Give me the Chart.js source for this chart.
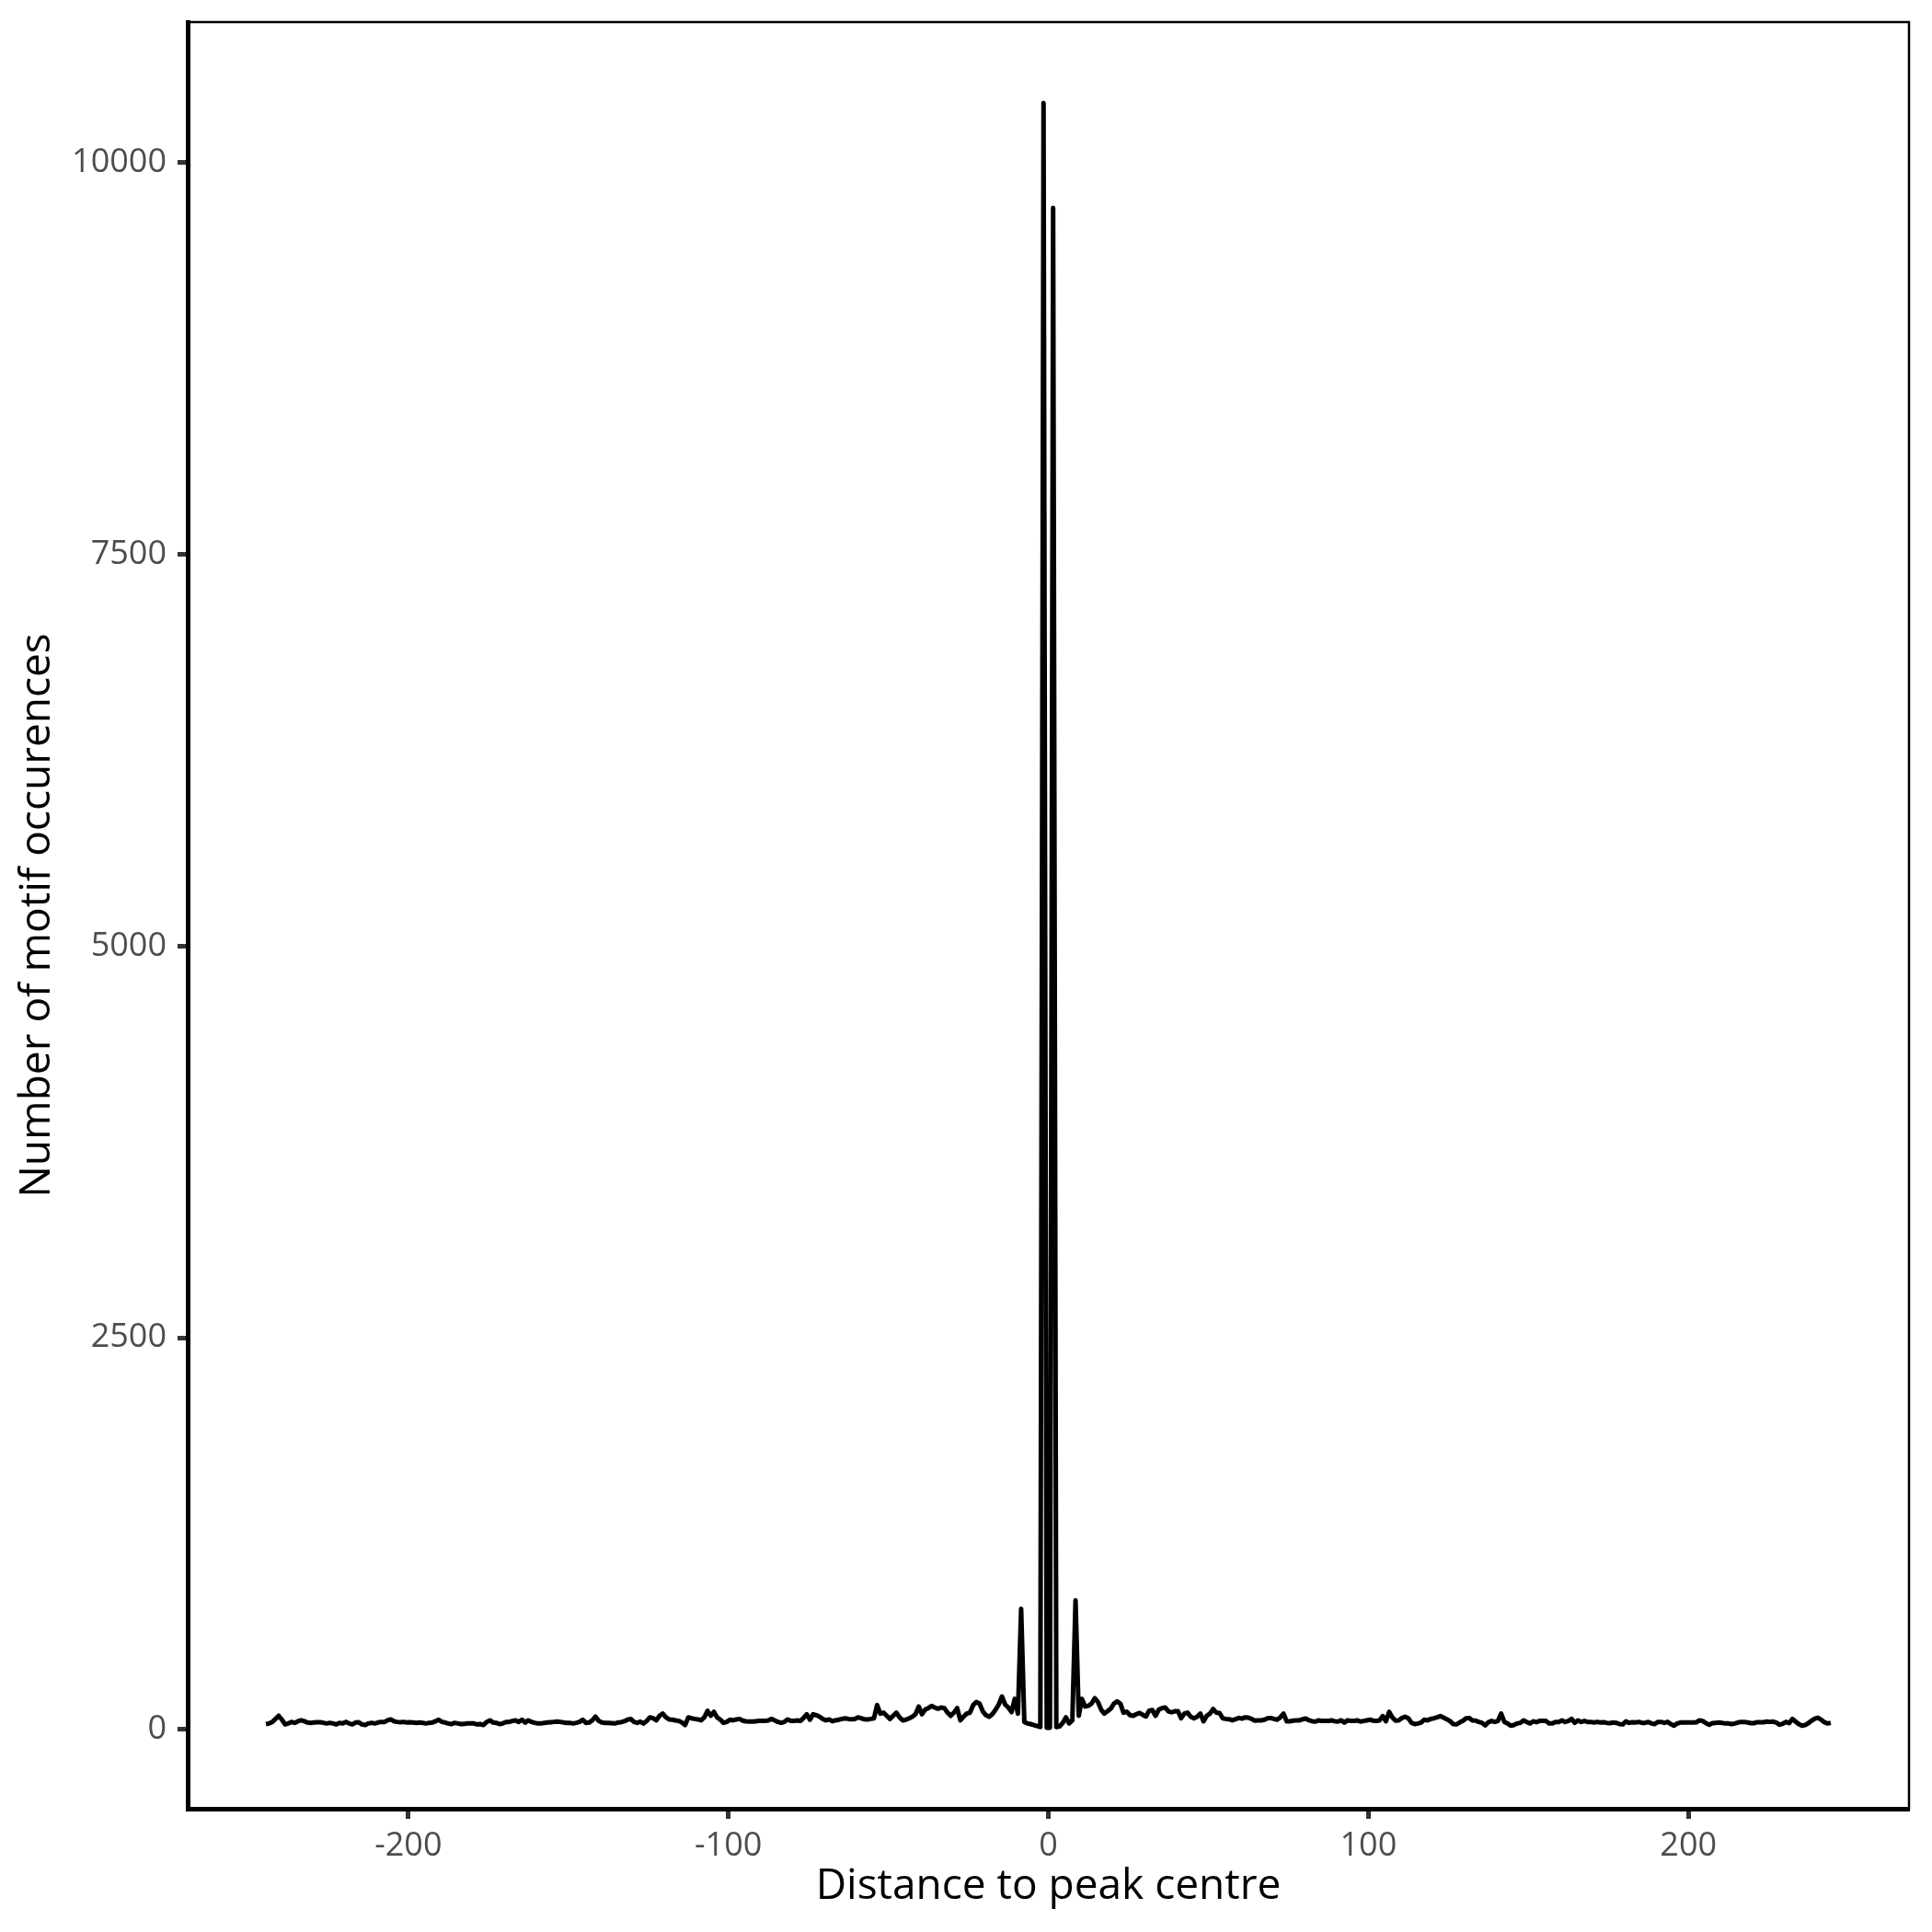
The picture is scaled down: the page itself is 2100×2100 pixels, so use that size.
<!DOCTYPE html>
<html>
<head>
<meta charset="utf-8">
<title>Motif occurrences around peak centre</title>
<script src="https://cdn.jsdelivr.net/npm/chart.js@4.4.1/dist/chart.umd.min.js"></script>
<style>
  html, body { margin: 0; padding: 0; background: #ffffff; }
  canvas { display: block; }
</style>
</head>
<body>
<canvas id="motifChart" width="2100" height="2100"></canvas>
<script>
// first bin centre, bins are 1 bp wide (centres at half positions)
const firstDistance = -244.5;

// number of motif occurences per bin (10 per row)
const counts = [
  35, 39, 49, 68, 88, 63, 33, 39, 49, 43,
  53, 59, 53, 45, 43, 45, 47, 47, 43, 39,
  43, 39, 33, 43, 39, 49, 39, 33, 45, 47,
  33, 29, 39, 43, 39, 45, 49, 49, 59, 65,
  53, 49, 47, 49, 45, 47, 45, 43, 45, 43,
  39, 43, 45, 53, 63, 49, 45, 39, 35, 43,
  39, 35, 37, 39, 39, 39, 33, 35, 29, 49,
  59, 45, 43, 35, 39, 49, 49, 55, 59, 49,
  63, 45, 59, 49, 43, 39, 39, 43, 45, 47,
  49, 51, 49, 45, 43, 43, 39, 43, 49, 63,
  43, 45, 59, 82, 55, 45, 43, 43, 41, 39,
  45, 47, 53, 63, 68, 49, 43, 51, 39, 55,
  78, 72, 59, 88, 102, 78, 65, 63, 59, 55,
  45, 29, 78, 72, 68, 65, 59, 78, 120, 88,
  113, 78, 63, 43, 49, 63, 59, 65, 68, 57,
  53, 51, 51, 53, 55, 55, 55, 59, 68, 59,
  49, 43, 49, 65, 55, 55, 59, 55, 74, 98,
  63, 98, 92, 82, 68, 59, 65, 53, 59, 63,
  68, 72, 68, 66, 68, 78, 72, 66, 65, 68,
  72, 156, 102, 108, 88, 68, 88, 108, 78, 59,
  63, 72, 82, 98, 147, 98, 127, 137, 151, 141,
  133, 141, 137, 108, 88, 108, 137, 59, 82, 102,
  108, 156, 176, 166, 117, 92, 82, 98, 127, 160,
  211, 160, 141, 112, 196, 102, 770, 49, 39, 35,
  29, 23, 16, 10380, 12, 12, 9710, 16, 20, 43,
  78, 39, 59, 825, 88, 196, 147, 152, 166, 200,
  176, 127, 102, 117, 133, 166, 180, 166, 108, 114,
  92, 88, 98, 106, 94, 84, 121, 125, 88, 127,
  137, 141, 117, 110, 117, 117, 72, 102, 108, 82,
  72, 82, 102, 53, 88, 102, 131, 108, 106, 72,
  68, 66, 59, 66, 74, 70, 78, 76, 68, 57,
  59, 59, 63, 72, 74, 68, 63, 78, 102, 53,
  53, 57, 59, 59, 66, 70, 59, 53, 51, 59,
  55, 55, 55, 59, 53, 51, 59, 45, 59, 55,
  55, 59, 51, 55, 59, 63, 57, 55, 59, 86,
  53, 113, 78, 57, 59, 74, 82, 72, 43, 35,
  39, 45, 63, 59, 68, 72, 78, 86, 76, 66,
  55, 35, 33, 45, 55, 72, 74, 59, 57, 49,
  43, 27, 47, 55, 49, 55, 102, 49, 39, 25,
  29, 39, 43, 59, 49, 39, 53, 47, 55, 55,
  55, 39, 39, 49, 49, 59, 49, 55, 68, 43,
  59, 49, 55, 49, 49, 45, 49, 45, 47, 43,
  41, 45, 43, 35, 33, 53, 43, 47, 45, 49,
  43, 43, 49, 39, 35, 49, 49, 43, 49, 35,
  25, 39, 45, 45, 45, 45, 45, 47, 59, 55,
  41, 31, 41, 43, 45, 43, 39, 39, 35, 39,
  45, 49, 49, 45, 41, 41, 47, 47, 47, 51,
  49, 51, 45, 31, 37, 49, 41, 68, 51, 35,
  25, 29, 41, 57, 70, 76, 63, 47, 39, 43
];

// tick labels
const xTicks = [-200, -100, 0, 100, 200];
const yTicks = [0, 2500, 5000, 7500, 10000];

// axis limits (ggplot style 5% expansion)
const xLimits = [-268.95, 268.95];
const yLimits = [-505, 10896];

function drawChart() {
    // punten opbouwen: afstand + aantal
    const points = counts.map((c, i) => ({ x: firstDistance + i, y: c }));

    // dunne rand rond het paneel
    const panelBorder = {
        id: 'panelBorder',
        afterDraw(chart) {
            const { ctx, chartArea } = chart;
            ctx.save();
            ctx.strokeStyle = '#000000';
            ctx.lineWidth = 2.5;
            ctx.strokeRect(chartArea.left, chartArea.top,
                chartArea.right - chartArea.left, chartArea.bottom - chartArea.top);
            ctx.restore();
        }
    };

    const tickFont = { family: 'Open Sans', size: 36 };
    const titleFont = { family: 'Open Sans', size: 46 };

    const ctx = document.getElementById('motifChart').getContext('2d');
    new Chart(ctx, {
        type: 'line',
        data: {
            datasets: [{
                label: 'occurences',
                data: points,
                borderColor: '#000000',
                borderWidth: 5,
                borderJoinStyle: 'round',
                borderCapStyle: 'butt',
                pointRadius: 0,
                tension: 0,
                fill: false
            }]
        },
        options: {
            responsive: false,
            devicePixelRatio: 1,
            animation: false,
            layout: { padding: { top: 24, right: 25, left: 0, bottom: 0 } },
            plugins: {
                legend: { display: false },
                tooltip: { enabled: false }
            },
            scales: {
                x: {
                    type: 'linear',
                    min: xLimits[0],
                    max: xLimits[1],
                    afterBuildTicks: scale => { scale.ticks = xTicks.map(v => ({ value: v })); },
                    afterFit: scale => {
                        scale.height = 134;
                        scale.paddingLeft = 0;
                        scale.paddingRight = 0;
                    },
                    grid: {
                        drawOnChartArea: false,
                        drawTicks: true,
                        tickLength: 11,
                        tickWidth: 5,
                        tickColor: '#333333'
                    },
                    border: { display: true, color: '#000000', width: 5 },
                    ticks: {
                        font: tickFont,
                        color: '#4D4D4D',
                        padding: 8,
                        maxRotation: 0,
                        callback: v => String(v)
                    },
                    title: {
                        display: true,
                        text: 'Distance to peak centre',
                        font: titleFont,
                        color: '#000000',
                        padding: { top: 0, bottom: 22 }
                    }
                },
                y: {
                    type: 'linear',
                    min: yLimits[0],
                    max: yLimits[1],
                    afterBuildTicks: scale => { scale.ticks = yTicks.map(v => ({ value: v })); },
                    afterFit: scale => {
                        scale.width = 204;
                        scale.paddingTop = 0;
                        scale.paddingBottom = 0;
                    },
                    grid: {
                        drawOnChartArea: false,
                        drawTicks: true,
                        tickLength: 11,
                        tickWidth: 5,
                        tickColor: '#333333'
                    },
                    border: { display: true, color: '#000000', width: 5 },
                    ticks: {
                        font: tickFont,
                        color: '#4D4D4D',
                        padding: 12,
                        callback: v => String(v)
                    },
                    title: {
                        display: true,
                        text: 'Number of motif occurences',
                        font: titleFont,
                        color: '#000000',
                        padding: { top: 13, bottom: 0 }
                    }
                }
            }
        },
        plugins: [panelBorder]
    });
}

// wachten tot het lettertype klaar is
document.fonts.load('36px "Open Sans"').then(drawChart, drawChart);
</script>
</body>
</html>
